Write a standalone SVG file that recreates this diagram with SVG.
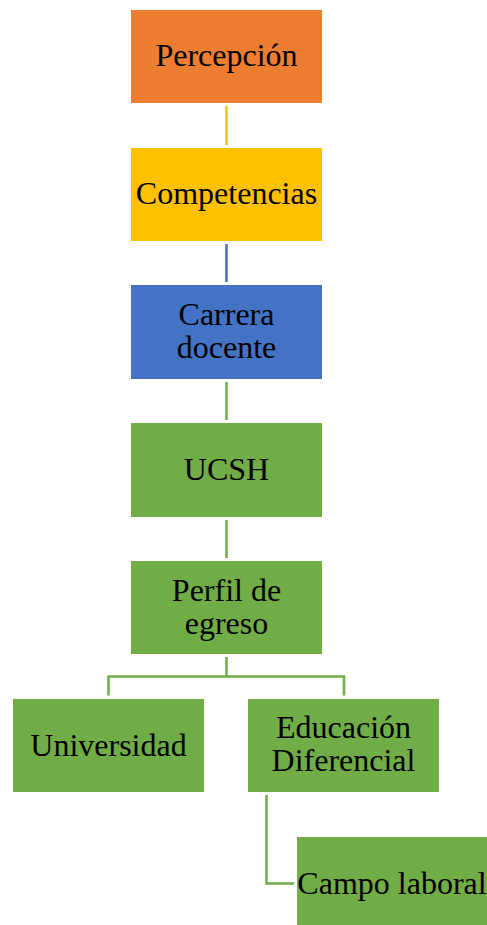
<svg xmlns="http://www.w3.org/2000/svg" width="487" height="925" viewBox="0 0 487 925">
<style>
.box{stroke:none}
.t{font-family:"Liberation Serif","Times New Roman",serif;font-size:32px;fill:#000;text-anchor:middle}
.c{fill:none;stroke-width:2.5}
</style>
<rect width="487" height="925" fill="#fff"/>
<g id="connectors">
<line class="c" x1="226.5" y1="106" x2="226.5" y2="145" stroke="#FFC000"/>
<line class="c" x1="226.5" y1="244" x2="226.5" y2="282" stroke="#4472C4"/>
<line class="c" x1="226.5" y1="382" x2="226.5" y2="420" stroke="#70AD47"/>
<line class="c" x1="226.5" y1="520" x2="226.5" y2="558" stroke="#70AD47"/>
<polyline class="c" points="226.5,657 226.5,676.5 108.5,676.5 108.5,695.5" stroke="#70AD47"/>
<polyline class="c" points="226.5,676.5 344,676.5 344,695.5" stroke="#70AD47"/>
<polyline class="c" points="266.5,795 266.5,883.5 294,883.5" stroke="#70AD47"/>
</g>
<g id="percepcion">
<rect class="box" x="131" y="10" width="191" height="93" fill="#ED7D31"/>
<text class="t" x="226.5" y="66">Percepción</text>
</g>
<g id="competencias">
<rect class="box" x="131" y="148" width="191" height="93" fill="#FFC000"/>
<text class="t" x="226.5" y="204">Competencias</text>
</g>
<g id="carrera">
<rect class="box" x="131" y="285" width="191" height="94" fill="#4472C4"/>
<text class="t" x="226.5" y="325">Carrera</text>
<text class="t" x="226.5" y="358">docente</text>
</g>
<g id="ucsh">
<rect class="box" x="131" y="423" width="191" height="94" fill="#70AD47"/>
<text class="t" x="226.5" y="480">UCSH</text>
</g>
<g id="perfil">
<rect class="box" x="131" y="561" width="191" height="93" fill="#70AD47"/>
<text class="t" x="226.5" y="601">Perfil de</text>
<text class="t" x="226.5" y="634">egreso</text>
</g>
<g id="universidad">
<rect class="box" x="13" y="699" width="191" height="93" fill="#70AD47"/>
<text class="t" x="108.5" y="756">Universidad</text>
</g>
<g id="educacion">
<rect class="box" x="248" y="699" width="191" height="93" fill="#70AD47"/>
<text class="t" x="343.5" y="738">Educación</text>
<text class="t" x="343.5" y="771">Diferencial</text>
</g>
<g id="campo">
<rect class="box" x="297" y="837" width="190" height="88" fill="#70AD47"/>
<text class="t" x="392" y="894">Campo laboral</text>
</g>
</svg>
